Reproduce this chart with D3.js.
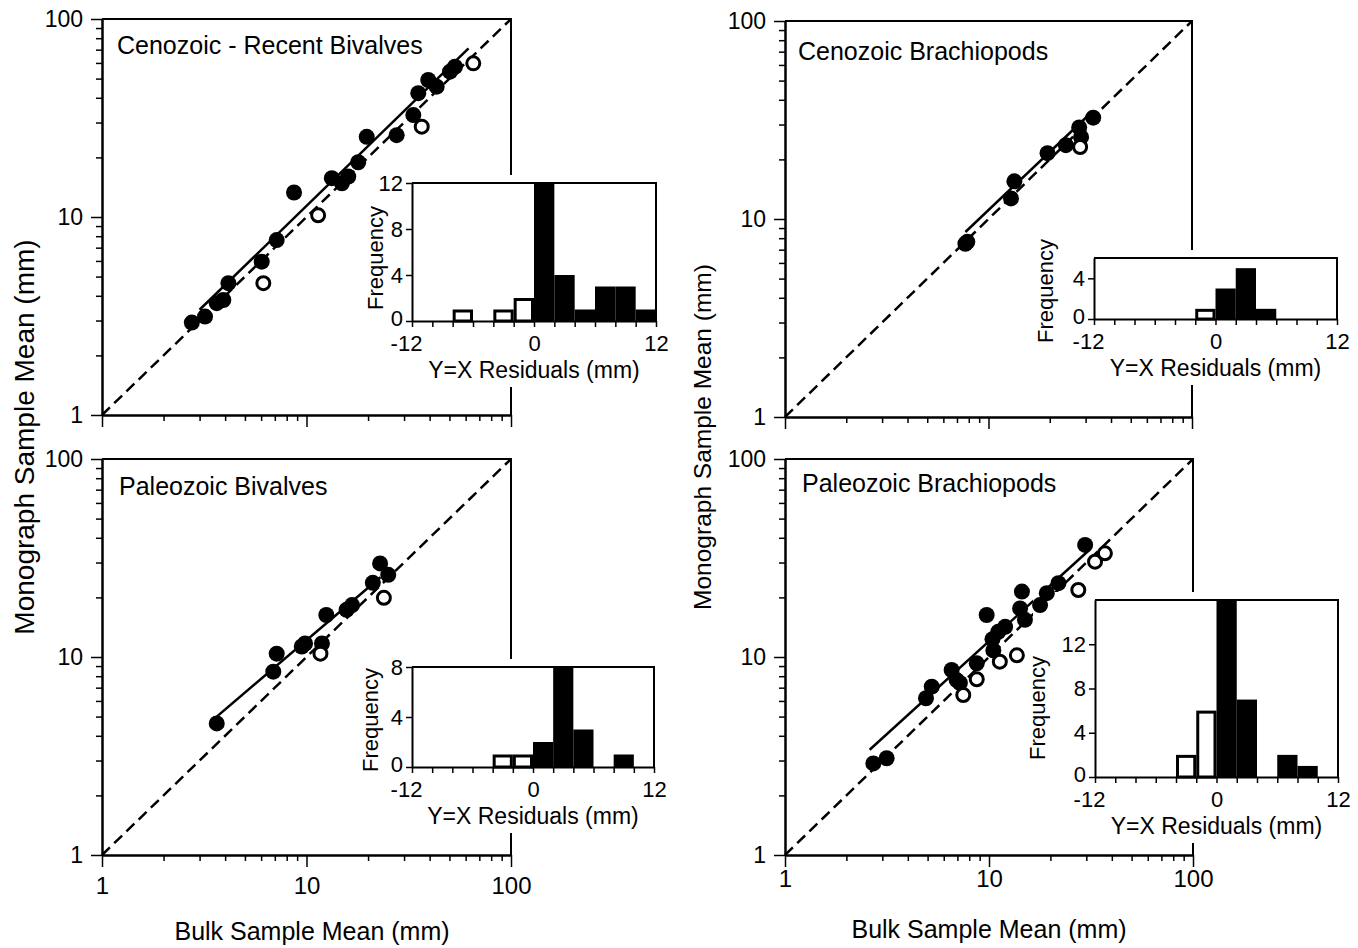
<!DOCTYPE html>
<html>
<head>
<meta charset="utf-8">
<script src="https://cdn.jsdelivr.net/npm/d3@7"></script>
<style>
  body { margin: 0; background: #fff; }
  text { font-family: "Liberation Sans", Arial, Helvetica, sans-serif; fill: #000; }
</style>
</head>
<body>
<div id="chart"></div>
<script>
// panel titles
const panelNames = ["Cenozoic - Recent Bivalves", "Cenozoic Brachiopods", "Paleozoic Bivalves", "Paleozoic Brachiopods"];

// scatter data: [bulk mean, monograph mean] in mm
const cenoBivFilled = [[2.75, 2.93], [3.19, 3.14], [3.64, 3.67], [3.92, 3.81], [4.15, 4.63], [6.04, 5.95], [7.15, 7.65],
  [8.69, 13.3], [13.3, 15.7], [14.9, 14.8], [16.0, 16.0], [17.9, 18.9], [19.7, 25.4], [27.6, 25.9], [33.3, 32.7],
  [35.2, 42.2], [39.4, 49.2], [43.3, 45.5], [50.3, 54.2], [53.2, 57.4]];
const cenoBivOpen = [[6.15, 4.63], [11.4, 10.2], [36.6, 28.6], [65.4, 59.7]];
const cenoBivFit = [[3.0, 3.4], [62, 71]];

const cenoBraFilled = [[7.7, 7.5], [7.87, 7.67], [12.9, 12.7], [13.4, 15.5], [19.5, 21.5], [24.0, 23.6], [27.9, 29.0],
  [28.5, 25.9], [32.7, 32.5]];
const cenoBraOpen = [[28.2, 23.1]];
const cenoBraFit = [[7.7, 8.6], [32, 34.5]];

const paleoBivFilled = [[3.64, 4.62], [6.88, 8.43], [7.15, 10.4], [9.48, 11.3], [9.84, 11.7], [11.9, 11.7], [12.5, 16.3],
  [15.7, 17.3], [16.7, 18.3], [21.1, 23.7], [22.9, 29.7], [25.1, 26.0]];
const paleoBivOpen = [[11.7, 10.4], [23.9, 19.9]];
const paleoBivFit = [[3.64, 5.0], [23, 25.3]];

const paleoBraFilled = [[2.71, 2.90], [3.15, 3.08], [4.91, 6.19], [5.24, 7.08], [6.56, 8.60], [6.94, 7.65], [7.2, 7.4],
  [8.71, 9.29], [9.74, 16.3], [10.5, 10.8], [10.4, 12.3], [11.1, 13.4], [12.0, 14.2], [14.5, 21.4], [14.2, 17.6],
  [15.0, 15.4], [17.8, 18.3], [19.2, 21.0], [21.9, 23.6], [29.6, 36.8]];
const paleoBraOpen = [[7.48, 6.43], [8.71, 7.72], [11.3, 9.47], [13.7, 10.2], [27.4, 21.8], [33.1, 30.3], [37.0, 33.4]];
const paleoBraFit = [[2.6, 3.4], [31, 34.7]];

// histogram of Y=X residuals, bins of 2 mm from -12 to 12
const binEdges = [-12, -10, -8, -6, -4, -2, 0, 2, 4, 6, 8, 10, 12];
const cenoBivNeg = [0, 0, 1, 0, 1, 2, 0, 0, 0, 0, 0, 0];
const cenoBivPos = [0, 0, 0, 0, 0, 0, 12, 4, 1, 3, 3, 1];
const cenoBraNeg = [0, 0, 0, 0, 0, 1, 0, 0, 0, 0, 0, 0];
const cenoBraPos = [0, 0, 0, 0, 0, 0, 3, 5, 1, 0, 0, 0];
const paleoBivNeg = [0, 0, 0, 0, 1, 1, 0, 0, 0, 0, 0, 0];
const paleoBivPos = [0, 0, 0, 0, 0, 0, 2, 8, 3, 0, 1, 0];
const paleoBraNeg = [0, 0, 0, 0, 2, 6, 0, 0, 0, 0, 0, 0];
const paleoBraPos = [0, 0, 0, 0, 0, 0, 16, 7, 0, 2, 1, 0];

// tick values
const majorTicks = [1, 10, 100];
const minorTicks = [2, 3, 4, 5, 6, 7, 8, 9, 20, 30, 40, 50, 60, 70, 80, 90];
const residLabels = [-12, 0, 12];

const w = 1358;
const h = 948;

// panel boxes (pixels)
const panels = [
  { name: panelNames[0], filled: cenoBivFilled, open: cenoBivOpen, fit: cenoBivFit, neg: cenoBivNeg, pos: cenoBivPos,
    left: 102, right: 511, top: 19, bottom: 415, xLabels: false, labelPad: 14, titleX: 117, titleY: 45,
    inset: { left: 412, right: 656, top: 183, bottom: 321, yMax: 12, yTicks: [0, 4, 8, 12], fx: 375, fy: 258 } },
  { name: panelNames[1], filled: cenoBraFilled, open: cenoBraOpen, fit: cenoBraFit, neg: cenoBraNeg, pos: cenoBraPos,
    left: 785, right: 1192, top: 21, bottom: 417, xLabels: false, labelPad: 14, titleX: 798, titleY: 51,
    inset: { left: 1094, right: 1337, top: 258, bottom: 319, yMax: 6, yTicks: [0, 4], fx: 1045, fy: 291 } },
  { name: panelNames[2], filled: paleoBivFilled, open: paleoBivOpen, fit: paleoBivFit, neg: paleoBivNeg, pos: paleoBivPos,
    left: 102, right: 511, top: 459, bottom: 855, xLabels: true, labelPad: 10, titleX: 119, titleY: 486,
    inset: { left: 412, right: 654, top: 667, bottom: 767, yMax: 8, yTicks: [0, 4, 8], fx: 370, fy: 720 } },
  { name: panelNames[3], filled: paleoBraFilled, open: paleoBraOpen, fit: paleoBraFit, neg: paleoBraNeg, pos: paleoBraPos,
    left: 785, right: 1193, top: 459, bottom: 855, xLabels: true, labelPad: 3, titleX: 802, titleY: 483,
    inset: { left: 1095, right: 1338, top: 600, bottom: 777, yMax: 16, yTicks: [0, 4, 8, 12], fx: 1037, fy: 708 } }
];

const svg = d3.select("#chart")
  .append("svg")
  .attr("width", w)
  .attr("height", h);

svg.append("rect")
  .attr("width", w)
  .attr("height", h)
  .attr("fill", "#fff");

const styleAxis = function(g, fontSize) {
  g.select(".domain").attr("stroke", "#000").attr("stroke-width", 2);
  g.selectAll(".tick line").attr("stroke", "#000").attr("stroke-width", 1.5);
  g.selectAll(".tick text")
    .attr("fill", "#000")
    .style("font-size", fontSize + "px")
    .style("font-family", "'Liberation Sans', Arial, sans-serif");
};

panels.forEach(p => {
  const g = svg.append("g");

  const xScale = d3.scaleLog().domain([1, 100]).range([p.left, p.right]);
  const yScale = d3.scaleLog().domain([1, 100]).range([p.bottom, p.top]);

  // frame: top and right
  g.append("path")
    .attr("d", `M${p.left},${p.top}H${p.right}V${p.bottom}`)
    .attr("fill", "none")
    .attr("stroke", "#000")
    .attr("stroke-width", 2);

  // y axis
  g.append("g")
    .attr("transform", `translate(${p.left},0)`)
    .call(d3.axisLeft(yScale).tickValues(minorTicks).tickSize(6).tickSizeOuter(0).tickFormat(""))
    .call(a => styleAxis(a, 23));
  g.append("g")
    .attr("transform", `translate(${p.left},0)`)
    .call(d3.axisLeft(yScale).tickValues(majorTicks).tickSize(11).tickSizeOuter(0).tickPadding(8).tickFormat(d3.format("d")))
    .call(a => styleAxis(a, 23));

  // x axis
  g.append("g")
    .attr("transform", `translate(0,${p.bottom})`)
    .call(d3.axisBottom(xScale).tickValues(minorTicks).tickSize(6).tickSizeOuter(0).tickFormat(""))
    .call(a => styleAxis(a, 23));
  g.append("g")
    .attr("transform", `translate(0,${p.bottom})`)
    .call(d3.axisBottom(xScale).tickValues(majorTicks).tickSize(12).tickSizeOuter(0).tickPadding(p.labelPad)
      .tickFormat(p.xLabels ? d3.format("d") : ""))
    .call(a => styleAxis(a, 24));

  // y = x line
  g.append("line")
    .attr("x1", xScale(1)).attr("y1", yScale(1))
    .attr("x2", xScale(100)).attr("y2", yScale(100))
    .attr("stroke", "#000")
    .attr("stroke-width", 2.5)
    .attr("stroke-dasharray", "11,6");

  // fitted line
  g.append("path")
    .datum(p.fit)
    .attr("d", d3.line().x(d => xScale(d[0])).y(d => yScale(d[1])))
    .attr("fill", "none")
    .attr("stroke", "#000")
    .attr("stroke-width", 2.5);

  g.append("text")
    .attr("x", p.titleX)
    .attr("y", p.titleY)
    .attr("dominant-baseline", "central")
    .style("font-size", "25px")
    .text(p.name);

  // inset histogram
  const I = p.inset;
  const ix = d3.scaleLinear().domain([-12, 12]).range([I.left, I.right]);
  const iy = d3.scaleLinear().domain([0, I.yMax]).range([I.bottom, I.top]);
  const ins = g.append("g");

  ins.append("rect")
    .attr("x", I.left - 62)
    .attr("y", I.top - 8)
    .attr("width", I.right - I.left + 72)
    .attr("height", I.bottom - I.top + 74)
    .attr("fill", "#fff");

  const bins = binEdges.slice(0, -1).map((e, i) => ({ x0: e, x1: binEdges[i + 1], neg: p.neg[i], pos: p.pos[i] }));

  ins.selectAll("rect.pos")
    .data(bins.filter(b => b.pos > 0))
    .enter()
    .append("rect")
      .attr("class", "pos")
      .attr("x", d => ix(d.x0))
      .attr("y", d => iy(d.pos))
      .attr("width", d => ix(d.x1) - ix(d.x0))
      .attr("height", d => iy(0) - iy(d.pos))
      .attr("fill", "#000");

  ins.selectAll("rect.neg")
    .data(bins.filter(b => b.neg > 0))
    .enter()
    .append("rect")
      .attr("class", "neg")
      .attr("x", d => ix(d.x0) + 1.5)
      .attr("y", d => iy(d.neg) + 1.5)
      .attr("width", d => ix(d.x1) - ix(d.x0) - 3)
      .attr("height", d => iy(0) - iy(d.neg) - 1.5)
      .attr("fill", "#fff")
      .attr("stroke", "#000")
      .attr("stroke-width", 3);

  ins.append("path")
    .attr("d", `M${I.left},${I.top}H${I.right}V${I.bottom}`)
    .attr("fill", "none")
    .attr("stroke", "#000")
    .attr("stroke-width", 2);

  ins.append("g")
    .attr("transform", `translate(0,${I.bottom})`)
    .call(d3.axisBottom(ix).tickValues(binEdges).tickSize(6).tickSizeOuter(0).tickPadding(8)
      .tickFormat(d => residLabels.includes(d) ? d : ""))
    .call(a => styleAxis(a, 22))
    .call(a => a.selectAll(".tick text").filter(d => d === -12).attr("dx", -6));

  ins.append("g")
    .attr("transform", `translate(${I.left},0)`)
    .call(d3.axisLeft(iy).tickValues(I.yTicks).tickSize(6).tickSizeOuter(0).tickPadding(3).tickFormat(d3.format("d")))
    .call(a => styleAxis(a, 22))
    .call(a => a.selectAll(".tick text").filter(d => d === 0).attr("dy", "0.2em"));

  ins.append("text")
    .attr("transform", `translate(${I.fx},${I.fy}) rotate(-90)`)
    .attr("text-anchor", "middle")
    .attr("dominant-baseline", "central")
    .style("font-size", "22px")
    .text("Frequency");

  ins.append("text")
    .attr("x", (I.left + I.right) / 2)
    .attr("y", I.bottom + 49)
    .attr("text-anchor", "middle")
    .attr("dominant-baseline", "central")
    .style("font-size", "23px")
    .text("Y=X Residuals (mm)");

  // points drawn last
  g.selectAll("circle.filled")
    .data(p.filled)
    .enter()
    .append("circle")
      .attr("class", "filled")
      .attr("cx", d => xScale(d[0]))
      .attr("cy", d => yScale(d[1]))
      .attr("r", 8)
      .attr("fill", "#000");

  g.selectAll("circle.open")
    .data(p.open)
    .enter()
    .append("circle")
      .attr("class", "open")
      .attr("cx", d => xScale(d[0]))
      .attr("cy", d => yScale(d[1]))
      .attr("r", 6.5)
      .attr("fill", "#fff")
      .attr("stroke", "#000")
      .attr("stroke-width", 3);
});

// axis titles
svg.append("text")
  .attr("transform", "translate(24,437) rotate(-90)")
  .attr("text-anchor", "middle")
  .attr("dominant-baseline", "central")
  .style("font-size", "28px")
  .text("Monograph Sample Mean (mm)");

svg.append("text")
  .attr("transform", "translate(702,437) rotate(-90)")
  .attr("text-anchor", "middle")
  .attr("dominant-baseline", "central")
  .style("font-size", "24.5px")
  .text("Monograph Sample Mean (mm)");

svg.append("text")
  .attr("x", 312)
  .attr("y", 940)
  .attr("text-anchor", "middle")
  .style("font-size", "25px")
  .text("Bulk Sample Mean (mm)");

svg.append("text")
  .attr("x", 989)
  .attr("y", 938)
  .attr("text-anchor", "middle")
  .style("font-size", "25px")
  .text("Bulk Sample Mean (mm)");
</script>
</body>
</html>
